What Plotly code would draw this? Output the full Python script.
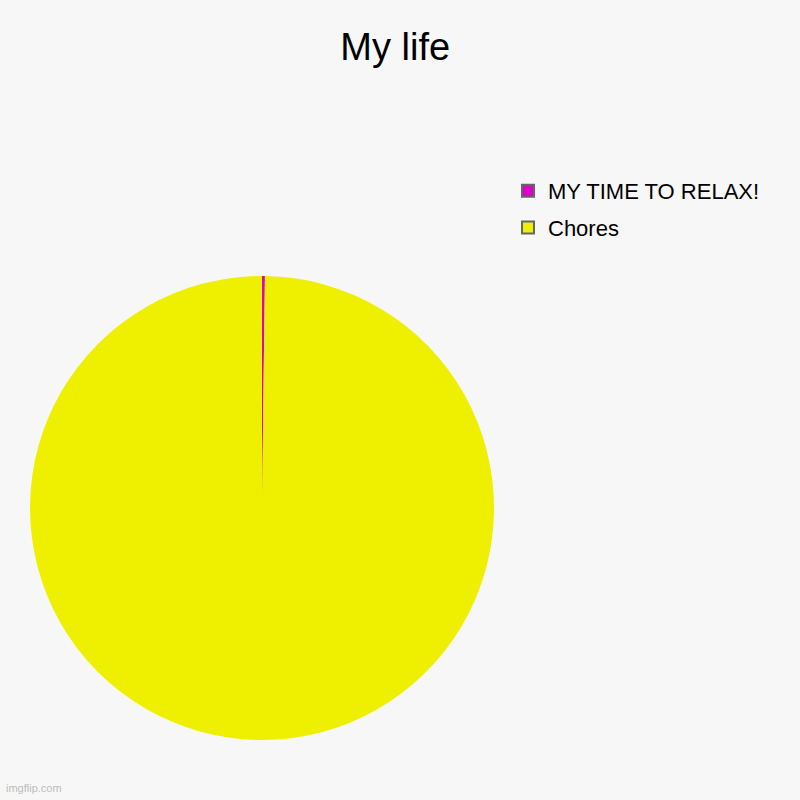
import plotly.graph_objects as go

labels = ['MY TIME TO RELAX!', 'Chores']
values = [0.2, 99.8]
colors = ['#dd00c8', '#eef000']

W = 800
px0, px1, py0, py1 = 30, 494, 276, 740  # pie box in pixels


def dom(pad):
    return {'x': [(px0 + pad) / W, (px1 - pad) / W],
            'y': [(W - py1 + pad) / W, (W - py0 - pad) / W]}


fig = go.Figure()
# one hidden pie per label, tucked under the main pie, so the legend gets grey-bordered boxes
for lab, val, col in zip(labels, values, colors):
    fig.add_trace(go.Pie(labels=[lab], values=[val], sort=False,
                         marker={'colors': [col], 'line': {'color': '#666666', 'width': 2}},
                         textinfo='none', domain=dom(4), legendgroup=lab, showlegend=True))
# visible pie, no border
fig.add_trace(go.Pie(labels=labels, values=values, sort=False, direction='clockwise',
                     marker={'colors': colors, 'line': {'width': 0}},
                     textinfo='none', domain=dom(0), showlegend=False))

fig.update_layout(
    width=800, height=800,
    paper_bgcolor='#f7f7f7', plot_bgcolor='#f7f7f7',
    margin={'l': 0, 'r': 0, 't': 0, 'b': 0},
    font={'family': 'Liberation Sans, Arial, sans-serif', 'color': '#000000'},
    title={'text': 'My life', 'x': 0.494, 'xanchor': 'center', 'y': 1 - 47 / 800,
           'yanchor': 'middle', 'font': {'size': 38, 'color': '#000000'}},
    legend={'x': 508 / 800, 'y': 1 - 170 / 800, 'xanchor': 'left', 'yanchor': 'top',
            'font': {'size': 22}, 'bgcolor': 'rgba(0,0,0,0)', 'tracegroupgap': 5,
            'traceorder': 'grouped'},
    annotations=[{'text': 'imgflip.com', 'x': 4 / 800, 'y': 4 / 800, 'xref': 'paper', 'yref': 'paper',
                  'xanchor': 'left', 'yanchor': 'bottom', 'showarrow': False,
                  'font': {'size': 11, 'color': '#bbbbbb'}}],
)

fig.write_html('out.html', config={'displayModeBar': False},
               post_script="document.body.style.margin='0px';")
